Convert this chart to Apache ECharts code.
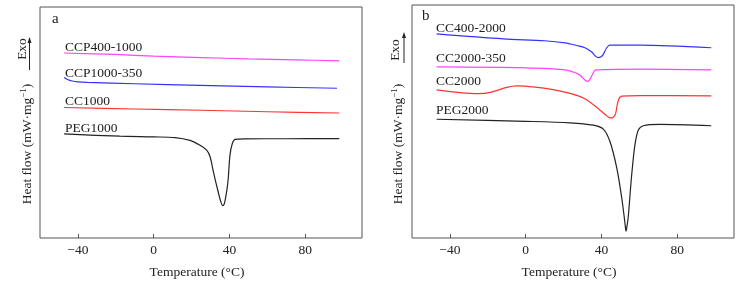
<!DOCTYPE html>
<html>
<head>
<meta charset="utf-8">
<script src="https://cdn.jsdelivr.net/npm/echarts@6/dist/echarts.min.js"></script>
<style>
  html, body { margin: 0; padding: 0; background: #fff; }
  #main { width: 743px; height: 284px; }
</style>
</head>
<body>
<div id="main"></div>
<script>
// tick positions on both temperature axes
var xTicks = [-40, 0, 40, 80];

// panel a (heat flow in arbitrary offset units)
var ccp4001000 = [[-47.3, 189], [-20, 187.5], [0, 185.8], [25, 184.3], [50, 183], [75, 182], [98, 181]];
var ccp1000350 = [[-47.3, 164], [-45.5, 162], [-43, 160.4], [-40, 159.5], [-35, 158.9], [-10, 157.6], [24.5, 156], [60, 154.4], [96.8, 153]];
var cc1000 = [[-47.3, 133.3], [-10, 131.8], [25, 130.5], [60, 129], [98, 127.7]];
var peg1000 = [[-47.3, 106.3], [-17.8, 104], [0, 103.3], [11.3, 102.6], [19.2, 99.7], [24.5, 94.7], [28, 89.7],
  [29.8, 83], [31.5, 68], [32.8, 57], [34.1, 47], [35.3, 38], [36.5, 33], [37.3, 35], [38, 41.3], [38.8, 51],
  [39.4, 61.3], [40.3, 84.7], [41.5, 96.3], [43, 100.7], [48.2, 101.3], [70, 101.4], [98, 101.5]];

// panel b
var cc4002000 = [[-47, 206.7], [-11.8, 201.7], [10, 199.8], [20.8, 197.7], [27, 195], [31.3, 192.7], [34.9, 188.3],
  [37, 184], [38.4, 182.7], [39.8, 183.6], [41, 186], [42.8, 192.7], [44.5, 195.3], [60.4, 195.3], [98, 192.7]];
var cc2000350 = [[-47, 173.3], [0, 172.4], [20.8, 170.3], [27.8, 166], [30.4, 161.7], [31.6, 159.5], [32.6, 158.7],
  [33.6, 159.8], [34.5, 162.7], [36.3, 169.3], [37.5, 170.3], [60.4, 171], [98, 170.2]];
var cc2000 = [[-47, 150], [-35, 147.3], [-25, 146.2], [-18, 147.8], [-10, 152.5], [-4.7, 154], [5, 152.8],
  [14.6, 150.3], [20.8, 147.7], [26, 145], [31.3, 141], [38.4, 131], [42.8, 123.7], [44.3, 121.9], [45.4, 121.7],
  [46.5, 122.8], [47.5, 126], [48.9, 139.3], [50.7, 143.7], [60.4, 144.3], [98, 144]];
var peg2000 = [[-47, 120.3], [0, 118.2], [23.4, 116.7], [35.7, 114.3], [41, 110.3], [44.5, 97.7],
  [48.1, 71], [50.7, 41], [52, 22], [52.6, 12], [53, 7], [53.5, 12], [54.1, 20], [54.6, 31], [56, 64.3], [57.7, 94.3],
  [59.5, 109.3], [62.1, 113.7], [71, 115], [98, 113.7]];

var serif = '"Liberation Serif", "Times New Roman", serif';
var axisColor = '#555';

function xAxisFor(gi) {
  return {
    gridIndex: gi, type: 'value', min: -60, max: 110,
    name: 'Temperature (°C)', nameLocation: 'middle', nameGap: 27,
    nameTextStyle: { fontFamily: serif, fontSize: 13.5, color: '#222', padding: [0, 8, 0, 0] },
    axisLine: { show: false },
    splitLine: { show: false },
    axisTick: { inside: true, length: 4, customValues: xTicks, lineStyle: { color: axisColor } },
    axisLabel: {
      customValues: xTicks, fontFamily: serif, fontSize: 13.5, color: '#222', margin: 5,
      formatter: function (v) { return String(v).replace('-', '\u2212'); }
    }
  };
}
function yAxisFor(gi) {
  return {
    gridIndex: gi, type: 'value', min: 0, max: 236,
    axisLine: { show: false }, axisTick: { show: false }, axisLabel: { show: false }, splitLine: { show: false }
  };
}
function line(name, data, color, gi) {
  return {
    name: name, type: 'line', data: data, xAxisIndex: gi, yAxisIndex: gi,
    showSymbol: false, smooth: 0.3,
    lineStyle: { color: color, width: 1.2 }, silent: true
  };
}
function txt(x, y, s, size) {
  return {
    type: 'text', x: x, y: y,
    style: { text: s, fontFamily: serif, fontSize: size || 13.5, fill: '#222', textVerticalAlign: 'middle' }
  };
}
function yName(x, y) {
  return {
    type: 'text', x: x, y: y, rotation: Math.PI / 2,
    style: {
      text: '{a|Heat flow (mW\u00b7mg}{s|\u22121}{a|)}',
      align: 'center', verticalAlign: 'middle',
      rich: {
        a: { fontFamily: serif, fontSize: 13.5, fill: '#222', lineHeight: 16 },
        s: { fontFamily: serif, fontSize: 9, fill: '#222', verticalAlign: 'top', lineHeight: 16 }
      }
    }
  };
}
function exo(x, y, lx, top, bottom) {
  return [
    {
      type: 'text', x: x, y: y, rotation: Math.PI / 2,
      style: { text: 'Exo', fontFamily: serif, fontSize: 13.5, fill: '#222', align: 'center', verticalAlign: 'middle' }
    },
    { type: 'line', shape: { x1: lx, y1: bottom, x2: lx, y2: top + 5 }, style: { stroke: '#222', lineWidth: 1 } },
    { type: 'polygon', shape: { points: [[lx, top], [lx - 2, top + 6], [lx + 2, top + 6]] }, style: { fill: '#222' } }
  ];
}

var chart = echarts.init(document.getElementById('main'), null, { renderer: 'canvas' });
chart.setOption({
  animation: false,
  backgroundColor: '#fff',
  grid: [
    { left: 40, top: 7, width: 322, height: 236, show: true, borderColor: axisColor, borderWidth: 1 },
    { left: 412, top: 5, width: 322, height: 236, show: true, borderColor: axisColor, borderWidth: 1 }
  ],
  xAxis: [xAxisFor(0), xAxisFor(1)],
  yAxis: [yAxisFor(0), yAxisFor(1)],
  series: [
    line('CCP400-1000', ccp4001000, '#ff44ff', 0),
    line('CCP1000-350', ccp1000350, '#3333ff', 0),
    line('CC1000', cc1000, '#ff3333', 0),
    line('PEG1000', peg1000, '#222', 0),
    line('CC400-2000', cc4002000, '#3333ff', 1),
    line('CC2000-350', cc2000350, '#ff44ff', 1),
    line('CC2000', cc2000, '#ff3333', 1),
    line('PEG2000', peg2000, '#222', 1)
  ],
  graphic: [
    txt(52, 19, 'a', 15),
    txt(65, 47, 'CCP400-1000'),
    txt(65, 73, 'CCP1000-350'),
    txt(65, 101.5, 'CC1000'),
    txt(65, 128.5, 'PEG1000'),
    yName(27, 144),
    txt(422, 16, 'b', 15),
    txt(436, 28.5, 'CC400-2000'),
    txt(436, 58.5, 'CC2000-350'),
    txt(436, 81.5, 'CC2000'),
    txt(436, 110, 'PEG2000'),
    yName(398, 144)
  ].concat(exo(22.5, 49, 29.5, 37, 70)).concat(exo(395, 50, 404, 32, 63))
});
</script>
</body>
</html>
